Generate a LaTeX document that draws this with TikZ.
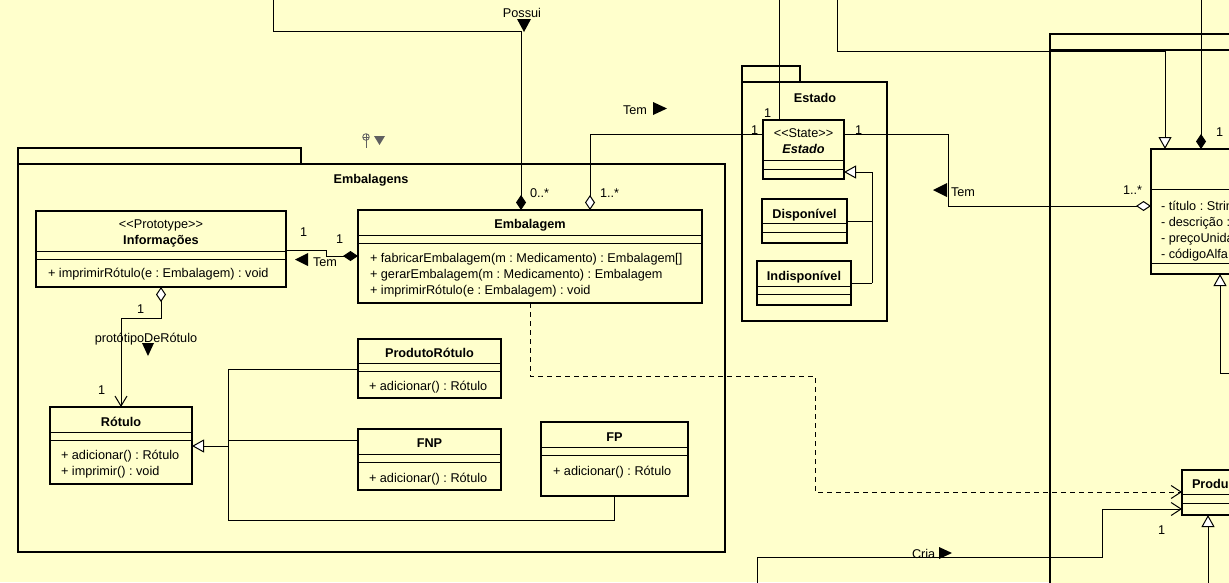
\documentclass[tikz,border=0pt]{standalone}
\usepackage{fontspec}
\setmainfont{Liberation Sans}
\usetikzlibrary{arrows.meta,calc}
\definecolor{paper}{HTML}{FFFFCC}
\definecolor{icongray}{HTML}{606060}
\frenchspacing

% class box with its compartment dividers
\newcommand\cdiv[2]{\draw[divline] ($(#1.north west)+(0,#2)$) -- ($(#1.north east)+(0,#2)$);}

\begin{document}
\begin{tikzpicture}[x=1pt,y=-1pt,
  txt/.style={font=\fontsize{12.7}{15}\selectfont, inner sep=0pt, outer sep=0pt},
  nm/.style={txt, font=\fontsize{12.7}{15}\selectfont\bfseries, anchor=base},
  st/.style={txt, anchor=base},
  mb/.style={txt, anchor=base west},
  classbox/.style={draw, line width=2pt, fill=paper, inner sep=0pt, outer sep=0pt, anchor=north west},
  pkgbox/.style={draw, line width=2pt, fill=paper},
  divline/.style={line width=1pt},
  conn/.style={line width=1pt},
  comp/.style={conn, -{Diamond[length=15pt,width=10pt]}},
  aggr/.style={conn, -{Diamond[length=15pt,width=10pt,fill=white]}},
  gen/.style={conn, -{Triangle[length=12pt,width=13pt,fill=white]}},
  nav/.style={conn, -{Straight Barb[length=10pt,width=13pt]}},
  dep/.style={nav, dash pattern=on 5pt off 4pt},
  dirmark/.style={fill=black}
]
\useasboundingbox (0,0) rectangle (1229,582);
\fill[paper] (0,0) rectangle (1229,582);
\clip (0,0) rectangle (1229,582);

% ---------- packages ----------
\draw[pkgbox] (18,148) rectangle (301,164);
\draw[pkgbox] (18,164) rectangle (725,552);
\node[nm] (pkgEmbT) at (371,183) {Embalagens};

\draw[pkgbox] (742,66) rectangle (800,82);
\draw[pkgbox] (742,82) rectangle (887,321);
\node[nm] (pkgEstT) at (815,102) {Estado};

\draw[pkgbox] (1050,34) rectangle (1300,50);
\draw[pkgbox] (1050,50) rectangle (1300,650);

% small link icon above the Embalagens package
\draw[icongray, line width=0.8pt] (366,137) circle (3.3);
\draw[icongray, line width=0.6pt] (362.7,137) -- (369.3,137) (366,133.7) -- (366,140.3);
\draw[icongray, line width=0.9pt] (366,140.3) -- (366,148);
\fill[icongray] (374,136) -- (385,136) -- (379.5,145) -- cycle;

% ---------- classes ----------
\node[classbox, minimum width=344pt, minimum height=93pt] (emb) at (358,210) {};
\cdiv{emb}{25}\cdiv{emb}{33}
\node[nm] (embN) at (530,228) {Embalagem};
\node[mb] (embM1) at (370,262) {+ fabricarEmbalagem(m : Medicamento) : Embalagem[]};
\node[mb] (embM2) at (370,278) {+ gerarEmbalagem(m : Medicamento) : Embalagem};
\node[mb] (embM3) at (370,294) {+ imprimirRótulo(e : Embalagem) : void};

\node[classbox, minimum width=250pt, minimum height=76pt] (info) at (36,211) {};
\cdiv{info}{40}\cdiv{info}{48}
\node[st] (infoS) at (161,228) {{<}{<}Prototype{>}{>}};
\node[nm] (infoN) at (161,244) {Informações};
\node[mb] (infoM) at (48,277) {+ imprimirRótulo(e : Embalagem) : void};

\node[classbox, minimum width=142pt, minimum height=77pt] (rot) at (50,407) {};
\cdiv{rot}{25}\cdiv{rot}{33}
\node[nm] (rotN) at (121,426) {Rótulo};
\node[mb] (rotM1) at (61,459) {+ adicionar() : Rótulo};
\node[mb] (rotM2) at (61,475) {+ imprimir() : void};

\node[classbox, minimum width=143pt, minimum height=59pt] (prodrot) at (358,339) {};
\cdiv{prodrot}{24}\cdiv{prodrot}{32}
\node[nm] (prodrotN) at (429.5,357) {ProdutoRótulo};
\node[mb] (prodrotM) at (369,390) {+ adicionar() : Rótulo};

\node[classbox, minimum width=143pt, minimum height=61pt] (fnp) at (358,429) {};
\cdiv{fnp}{25}\cdiv{fnp}{33}
\node[nm] (fnpN) at (429.5,447) {FNP};
\node[mb] (fnpM) at (369,482) {+ adicionar() : Rótulo};

\node[classbox, minimum width=147pt, minimum height=74pt] (fp) at (541,422) {};
\cdiv{fp}{25}\cdiv{fp}{33}
\node[nm] (fpN) at (614.5,441) {FP};
\node[mb] (fpM) at (553,475) {+ adicionar() : Rótulo};

\node[classbox, minimum width=81pt, minimum height=59pt] (estc) at (763,120) {};
\cdiv{estc}{40}\cdiv{estc}{49}
\node[st] (estcS) at (803.5,137) {{<}{<}State{>}{>}};
\node[nm, font=\fontsize{12.7}{15}\selectfont\bfseries\itshape] (estcN) at (803.5,153) {Estado};

\node[classbox, minimum width=85pt, minimum height=44pt] (disp) at (762,199) {};
\cdiv{disp}{24}\cdiv{disp}{33}
\node[nm] (dispN) at (804.5,218) {Disponível};

\node[classbox, minimum width=94pt, minimum height=44pt] (indisp) at (757,261) {};
\cdiv{indisp}{25}\cdiv{indisp}{33}
\node[nm] (indispN) at (804,280) {Indisponível};

\node[classbox, minimum width=120pt, minimum height=125pt] (med) at (1151,149) {};
\cdiv{med}{40}\cdiv{med}{114}
\node[mb] (medA1) at (1161,210) {- título : Strin};
\node[mb] (medA2) at (1161,226) {- descrição :};
\node[mb] (medA3) at (1161,242) {- preçoUnida};
\node[mb] (medA4) at (1161,258) {- códigoAlfa};

\node[classbox, minimum width=80pt, minimum height=45pt] (produ) at (1182,470) {};
\cdiv{produ}{24}\cdiv{produ}{33}
\node[nm, anchor=base west] (produN) at (1192,488) {Produ};

% ---------- connectors ----------
\coordinate (possuiTop) at (273,-5);
\coordinate (estTop) at (779,-5);
\coordinate (genTop) at (837,-5);
\coordinate (compTop) at (1201,-5);
\coordinate (criaEnd) at (757,600);
\coordinate (produGenEnd) at (1208,600);
\coordinate (medGenEnd) at (1240,373);

% Possui (composition into Embalagem)
\draw[comp] (possuiTop) |- (521,31) -- ($(emb.north west)+(163,0)$);
\node[st] (possuiL) at (522,17) {Possui};
\fill[dirmark] (517,19) -- (531,19) -- (524,32) -- cycle;
\node[mb] (m0) at (530,197) {0..*};

% Embalagem -- Estado (Tem)
\draw[aggr] ($(estc.north west)+(0,14)$) -| ($(emb.north west)+(232,0)$);
\node[mb] (m1) at (600,197) {1..*};
\node[mb] (m2) at (751,134) {1};
\node[mb] (temTopL) at (623,114) {Tem};
\fill[dirmark] (653,102) -- (667,108.5) -- (653,115) -- cycle;

% Informações -- Embalagem (Tem)
\draw[comp] ($(info.north east)+(0,39)$) -- (326,250) |- ($(emb.north west)+(0,46)$);
\node[mb] (m3) at (300,236) {1};
\node[mb] (m4) at (336,243) {1};
\node[mb] (temInfoL) at (313,266) {Tem};
\fill[dirmark] (308,253) -- (295,259.5) -- (308,266) -- cycle;

% Informações -- Rótulo (protótipoDeRótulo)
\draw[conn, {Diamond[length=15pt,width=10pt,fill=white]}-{Straight Barb[length=10pt,width=12pt]}]
  ($(info.south west)+(125,0)$) -- (161,318) -| ($(rot.north west)+(71,0)$);
\node[mb] (m5) at (137,313) {1};
\node[mb] (m6) at (98,394) {1};
\node[st] (protL) at (146,342) {protótipoDeRótulo};
\fill[dirmark] (142,343) -- (154,343) -- (148,356) -- cycle;

% Rótulo generalization
\draw[conn] ($(prodrot.north west)+(0,30)$) -- (228,369) -- (228,520) -| ($(fp.south west)+(73,0)$);
\draw[conn] ($(fnp.north west)+(0,11)$) -- (228,440);
\draw[gen] (228,446) -- ($(rot.north east)+(0,39)$);

% Estado generalization
\draw[conn] ($(disp.north east)+(0,22)$) -- (872,221);
\draw[conn] ($(indisp.north east)+(0,22)$) -- (872,283);
\draw[gen] (872,283) -- (872,172) -- ($(estc.north east)+(0,52)$);

% Estado -- Medicamento (Tem)
\draw[aggr] ($(estc.north east)+(0,14)$) -- (948,134) |- ($(med.north west)+(0,57)$);
\node[mb] (m7) at (855,134) {1};
\node[mb] (m8) at (1123,194) {1..*};
\node[mb] (temRightL) at (951,196) {Tem};
\fill[dirmark] (947,183) -- (933,190) -- (947,197) -- cycle;

% lines entering from above
\draw[conn] (estTop) -- ($(estc.north west)+(16,0)$);
\node[mb] (m9) at (764,117) {1};
\draw[gen] (genTop) |- (1165,51) -- ($(med.north west)+(14,0)$);
\draw[comp] (compTop) -- ($(med.north west)+(50,0)$);
\node[mb] (m10) at (1216,136) {1};
\draw[gen] (medGenEnd) -| ($(med.south west)+(69,0)$);

% dependency Embalagem -> Produ
\draw[dep] ($(emb.south west)+(172,0)$) |- (815,376) |- ($(produ.north west)+(0,22)$);

% Cria
\draw[nav] (criaEnd) |- (1102,557) |- ($(produ.north west)+(0,39)$);
\node[mb] (criaL) at (912,558) {Cria};
\fill[dirmark] (939,547) -- (952,553) -- (939,559) -- cycle;
\node[mb] (m11) at (1158,534) {1};

% Produ generalization
\draw[gen] (produGenEnd) -- ($(produ.south west)+(26,0)$);
\end{tikzpicture}
\end{document}
